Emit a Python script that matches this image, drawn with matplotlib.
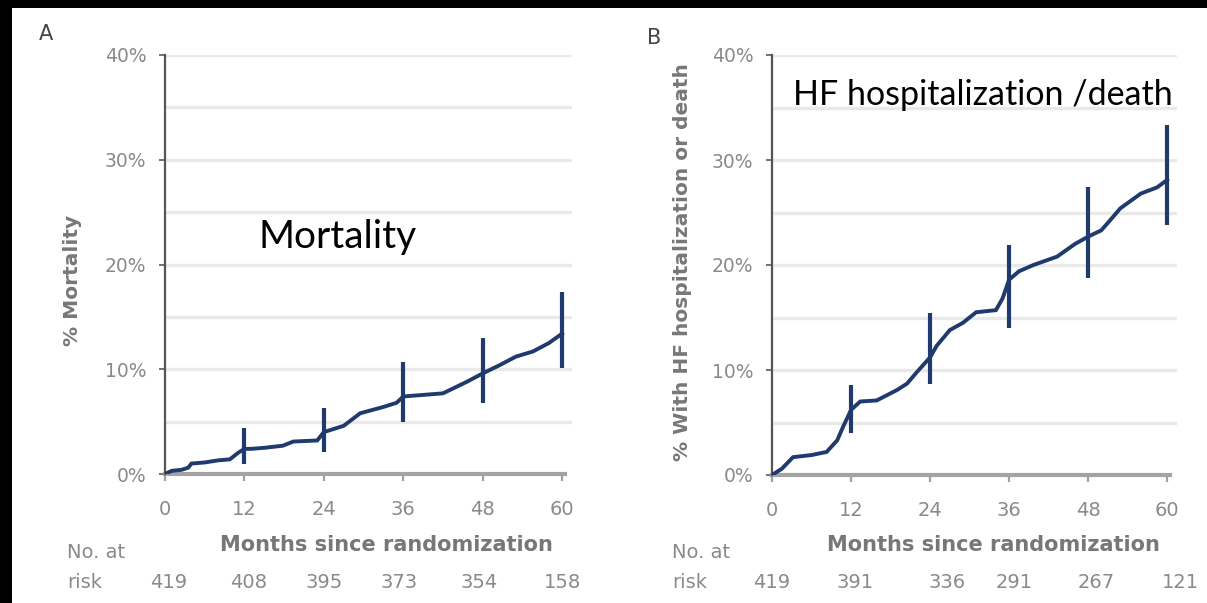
import matplotlib
matplotlib.use("Agg")
import matplotlib.pyplot as plt
from matplotlib.patches import Rectangle
from matplotlib.transforms import blended_transform_factory

# ---- Kaplan-Meier style cumulative event curves ----
months_a = [0, 1, 2.5, 3.5, 4, 6, 8, 9.8, 11, 12, 13, 15, 17.8, 19.4, 23, 24, 25, 27,
            29.5, 33, 35, 36, 38, 42, 45.6, 48, 50.6, 53, 55.6, 58, 60]
mortality = [0.0, 0.3, 0.4, 0.6, 1.0, 1.1, 1.3, 1.4, 2.0, 2.4, 2.4, 2.5, 2.7, 3.1, 3.2,
             4.0, 4.2, 4.6, 5.8, 6.4, 6.8, 7.4, 7.5, 7.7, 8.8, 9.6, 10.4, 11.2, 11.7,
             12.5, 13.4]

months_b = [0, 1.5, 3.2, 6, 8.3, 9.9, 10.8, 12, 13.4, 15.9, 19, 20.5, 22, 24, 25, 27,
            29, 31, 34, 35, 36, 37.5, 39.7, 43.3, 46, 48, 50, 51.4, 52.9, 56, 58.5, 60]
hf_death = [0.0, 0.6, 1.7, 1.9, 2.2, 3.3, 4.6, 6.2, 7.0, 7.1, 8.1, 8.7, 9.8, 11.2, 12.3,
            13.8, 14.5, 15.5, 15.7, 16.8, 18.6, 19.4, 20.0, 20.8, 22.0, 22.7, 23.3,
            24.3, 25.4, 26.8, 27.4, 28.1]

# 95% confidence intervals at yearly time points
ci_months = [12, 24, 36, 48, 60]
mort_lo = [1.0, 2.1, 5.0, 6.8, 10.1]
mort_hi = [4.4, 6.3, 10.7, 13.0, 17.4]
hf_lo = [4.0, 8.7, 14.0, 18.8, 23.8]
hf_hi = [8.6, 15.4, 21.9, 27.4, 33.3]

# number at risk table
risk_a = [419, 408, 395, 373, 354, 158]
risk_b = [419, 391, 336, 291, 267, 121]

x_ticks = [0, 12, 24, 36, 48, 60]
y_ticks = [0, 10, 20, 30, 40]
y_tick_labels = ["0%", "10%", "20%", "30%", "40%"]

LINE = "#1f3a6c"
TICK_GRAY = "#8a8a8a"
LABEL_GRAY = "#777777"
FONT = "DejaVu Sans"

W, H = 1207, 603
fig = plt.figure(figsize=(W / 100, H / 100), dpi=100)
fig.patch.set_facecolor("white")

# black frame strips on the left and top edges
fig.patches.append(Rectangle((0, 0), 12 / W, 1, transform=fig.transFigure,
                             facecolor="black", edgecolor="none", zorder=0))
fig.patches.append(Rectangle((0, 1 - 8 / H), 1, 8 / H, transform=fig.transFigure,
                             facecolor="black", edgecolor="none", zorder=0))


def px(x, y):
    return x / W, 1 - y / H


def panel(rect, months, values, lo, hi, risk, risk_pos, letter_xy, ylabel, ylabel_xy,
          risk_x_px, xlabel_x):
    ax = fig.add_axes(rect)
    ax.set_xlim(0, 61.5)
    ax.set_ylim(0, 40)
    ax.set_facecolor("none")

    for g in range(5, 41, 5):
        ax.axhline(g, color="#e9e9e9", lw=2.4, zorder=0)

    ax.plot(months, values, color=LINE, lw=2.8, zorder=3, solid_joinstyle="miter")
    ax.vlines(ci_months, lo, hi, color=LINE, lw=3.0, zorder=3)

    for s in ("top", "right"):
        ax.spines[s].set_visible(False)
    ax.spines["left"].set_color("#555555")
    ax.spines["left"].set_linewidth(1.6)
    ax.spines["bottom"].set_color("#a3a3a3")
    ax.spines["bottom"].set_linewidth(3)
    ax.spines["bottom"].set_bounds(0, 60.5)
    ax.spines["bottom"].set_zorder(2)

    ax.set_xticks(x_ticks)
    ax.set_xticklabels([str(t) for t in x_ticks])
    ax.set_yticks(y_ticks)
    ax.set_yticklabels(y_tick_labels)
    ax.tick_params(axis="x", direction="out", length=5, width=1.6, color="#a0a0a0",
                   pad=14, labelsize=14, labelcolor=TICK_GRAY)
    ax.tick_params(axis="y", direction="out", length=4, width=1.3, color="#666666",
                   pad=9.5, labelsize=13.5, labelcolor=TICK_GRAY)
    for lab in ax.get_xticklabels() + ax.get_yticklabels():
        lab.set_family(FONT)

    tr = blended_transform_factory(ax.transData, fig.transFigure)
    ax.text(xlabel_x, 1 - 545 / H, "Months since randomization", transform=tr,
            ha="center", va="center", fontsize=15, fontweight="bold",
            color=LABEL_GRAY, family=FONT)
    for n, xpos in zip(risk, risk_pos):
        ax.text(xpos, 1 - 583 / H, str(n), transform=tr, ha="center", va="center",
                fontsize=14, color=TICK_GRAY, family=FONT)

    fx, fy = px(risk_x_px, 553)
    fig.text(fx, fy, "No. at", ha="left", va="center", fontsize=14,
             color=TICK_GRAY, family=FONT)
    fx, fy = px(risk_x_px, 583)
    fig.text(fx, fy, "risk", ha="left", va="center", fontsize=14,
             color=TICK_GRAY, family=FONT)

    fx, fy = px(*letter_xy[1:])
    fig.text(fx, fy, letter_xy[0], ha="center", va="center", fontsize=15,
             color="#444444", family=FONT)

    fx, fy = px(*ylabel_xy)
    fig.text(fx, fy, ylabel, ha="center", va="center", rotation=90, fontsize=14.5,
             fontweight="bold", color=LABEL_GRAY, family=FONT)
    return ax


ax_a = panel([165 / W, 1 - 474 / H, 407 / W, 419 / H], months_a, mortality,
             mort_lo, mort_hi, risk_a, [0.5, 12.7, 24.0, 35.3, 47.4, 60.1],
             ("A", 46, 34), "% Mortality", (73, 280), 67, 33.5)
ax_b = panel([772 / W, 1 - 475 / H, 405 / W, 420 / H], months_b, hf_death,
             hf_lo, hf_hi, risk_b, [0.0, 12.6, 26.6, 36.8, 49.2, 62.0],
             ("B", 654, 38), "% With HF hospitalization or death", (683, 262), 672, 33.6)

# panel captions
fx, fy = px(258, 248)
fig.text(fx, fy, "Mortality", ha="left", va="baseline", fontsize=28,
         color="black", family="Lato")
fx, fy = px(793, 105)
fig.text(fx, fy, "HF hospitalization /death", ha="left", va="baseline", fontsize=24.5,
         color="black", family="Lato")

fig.savefig("out.png", dpi=100, facecolor=fig.get_facecolor())
